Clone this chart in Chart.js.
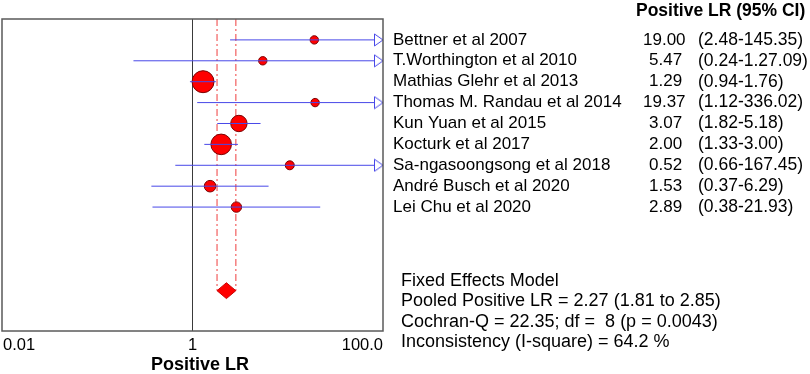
<!DOCTYPE html>
<html>
<head>
<meta charset="utf-8">
<script src="https://cdn.jsdelivr.net/npm/chart.js@4.4.1/dist/chart.umd.min.js"></script>
<style>
  html, body { margin: 0; padding: 0; background: #fff; }
</style>
</head>
<body>
<canvas id="forestChart" width="810" height="374"></canvas>
<script>
// study data
const studies = ['Bettner et al 2007', 'T.Worthington et al 2010', 'Mathias Glehr et al 2013',
    'Thomas M. Randau et al 2014', 'Kun Yuan et al 2015', 'Kocturk et al 2017',
    'Sa-ngasoongsong et al 2018', 'André Busch et al 2020', 'Lei Chu et al 2020'];
const lrLabels = ['19.00', '5.47', '1.29', '19.37', '3.07', '2.00', '0.52', '1.53', '2.89'];
const ciLabels = ['(2.48-145.35)', '(0.24-1.27.09)', '(0.94-1.76)', '(1.12-336.02)', '(1.82-5.18)',
    '(1.33-3.00)', '(0.66-167.45)', '(0.37-6.29)', '(0.38-21.93)'];
const estimates = [19.00, 5.47, 1.29, 19.37, 3.07, 2.00, 10.5, 1.53, 2.89];
const ciLower = [2.48, 0.24, 0.94, 1.12, 1.82, 1.33, 0.66, 0.37, 0.38];
const ciUpper = [145.35, 127.09, 1.76, 336.02, 5.18, 3.00, 167.45, 6.29, 21.93];
const weights = [4.2, 4.2, 11, 4.2, 8.2, 10.3, 4.5, 5.8, 5.2];   // marker radius ~ study weight
const pooledLR = [1.81, 2.27, 2.85];                            // lower, estimate, upper
const xTicks = [0.01, 1, 100];
const xTickLabels = ['0.01', '1', '100.0'];
const summaryLines = ['Fixed Effects Model', 'Pooled Positive LR = 2.27 (1.81 to 2.85)',
    'Cochran-Q = 22.35; df =  8 (p = 0.0043)', 'Inconsistency (I-square) = 64.2 %'];

const FONT = '"Liberation Sans", Arial, sans-serif';
const BLUE = '#4848e8';
const pooledRow = 13;
const yMax = 14.93;

// open arrow head, tip sits at the centre of the image
const arrowHead = document.createElement('canvas');
arrowHead.width = 20;
arrowHead.height = 14;
(function () {
    const c = arrowHead.getContext('2d');
    c.beginPath();
    c.moveTo(1.5, 1);
    c.lineTo(10, 7);
    c.lineTo(1.5, 13);
    c.closePath();
    c.fillStyle = '#fff';
    c.fill();
    c.strokeStyle = BLUE;
    c.lineWidth = 1;
    c.stroke();
})();

const datasets = [];

// reference line at LR = 1
datasets.push({
    data: [{ x: 1, y: 0 }, { x: 1, y: yMax }],
    showLine: true, borderColor: '#3a3a3a', borderWidth: 1, pointRadius: 0, order: 10
});

// dash-dot lines at pooled CI bounds
[pooledLR[0], pooledLR[2]].forEach(v => {
    datasets.push({
        data: [{ x: v, y: 0 }, { x: v, y: pooledRow }],
        showLine: true, borderColor: 'rgba(240,70,70,0.8)', borderWidth: 1.3,
        borderDash: [7, 3, 2, 3], pointRadius: 0, order: 9
    });
});

// study estimates
datasets.push({
    data: estimates.map((v, i) => ({ x: v, y: i + 1 })),
    pointRadius: weights, pointBackgroundColor: '#ff0000', pointBorderColor: '#7a0000',
    pointBorderWidth: 1, order: 8
});

// confidence intervals
studies.forEach((s, i) => {
    datasets.push({
        data: [{ x: ciLower[i], y: i + 1 }, { x: ciUpper[i], y: i + 1 }],
        showLine: true, borderColor: BLUE, borderWidth: 1, pointRadius: 0, order: 7
    });
});

// arrows for intervals running off the axis
datasets.push({
    data: ciUpper.map((v, i) => v > 100 ? { x: 100, y: i + 1 } : null).filter(p => p),
    pointStyle: arrowHead, pointRadius: 7, clip: false, order: 6
});

// pooled diamond
const dh = 0.38;
datasets.push({
    data: [{ x: pooledLR[0], y: pooledRow }, { x: pooledLR[1], y: pooledRow - dh },
        { x: pooledLR[2], y: pooledRow }, { x: pooledLR[1], y: pooledRow + dh },
        { x: pooledLR[0], y: pooledRow }],
    showLine: true, fill: 'shape', backgroundColor: '#ff0000', borderColor: '#c80000',
    borderWidth: 1, pointRadius: 0, tension: 0, order: 5
});

const forestDecor = {
    id: 'forestDecor',
    afterDraw(chart) {
        const ctx = chart.ctx;
        const area = chart.chartArea;
        const xs = chart.scales.x;
        const ys = chart.scales.y;
        ctx.save();

        // plot frame
        ctx.strokeStyle = '#5a5a5a';
        ctx.lineWidth = 1.5;
        ctx.strokeRect(area.left, area.top, area.right - area.left, area.bottom - area.top);

        ctx.fillStyle = '#000';
        ctx.textBaseline = 'middle';

        // x tick labels
        ctx.font = '16.5px ' + FONT;
        xTicks.forEach((t, i) => {
            const px = xs.getPixelForValue(t);
            ctx.textAlign = i === 0 ? 'left' : (i === xTicks.length - 1 ? 'right' : 'center');
            ctx.fillText(xTickLabels[i], px + (i === 0 ? 1 : 0), area.bottom + 14);
        });

        // x axis title
        ctx.font = 'bold 18px ' + FONT;
        ctx.textAlign = 'center';
        ctx.fillText('Positive LR', 200, 365);

        // column header
        ctx.textAlign = 'left';
        ctx.font = 'bold 17.5px ' + FONT;
        ctx.fillText('Positive LR (95% CI)', 636, 11);

        // study rows
        studies.forEach((s, i) => {
            const py = ys.getPixelForValue(i + 1);
            ctx.font = '17px ' + FONT;
            ctx.fillText(s, 393, py);
            ctx.fillText(lrLabels[i], lrLabels[i].length > 4 ? 643 : 649, py);
            ctx.font = '17.5px ' + FONT;
            ctx.fillText(ciLabels[i], 698, py);
        });

        // summary block
        ctx.font = '18px ' + FONT;
        summaryLines.forEach((line, i) => {
            ctx.fillText(line, 401, 281 + i * 20.3);
        });
        ctx.restore();
    }
};

new Chart(document.getElementById('forestChart').getContext('2d'), {
    type: 'scatter',
    data: { datasets: datasets },
    options: {
        responsive: false,
        animation: false,
        events: [],
        layout: { autoPadding: false, padding: { left: 2, right: 427, top: 19, bottom: 43 } },
        plugins: { legend: { display: false }, tooltip: { enabled: false } },
        scales: {
            x: { type: 'logarithmic', min: 0.01, max: 100, display: false },
            y: { type: 'linear', min: 0, max: yMax, reverse: true, display: false }
        }
    },
    plugins: [forestDecor]
});
</script>
</body>
</html>
